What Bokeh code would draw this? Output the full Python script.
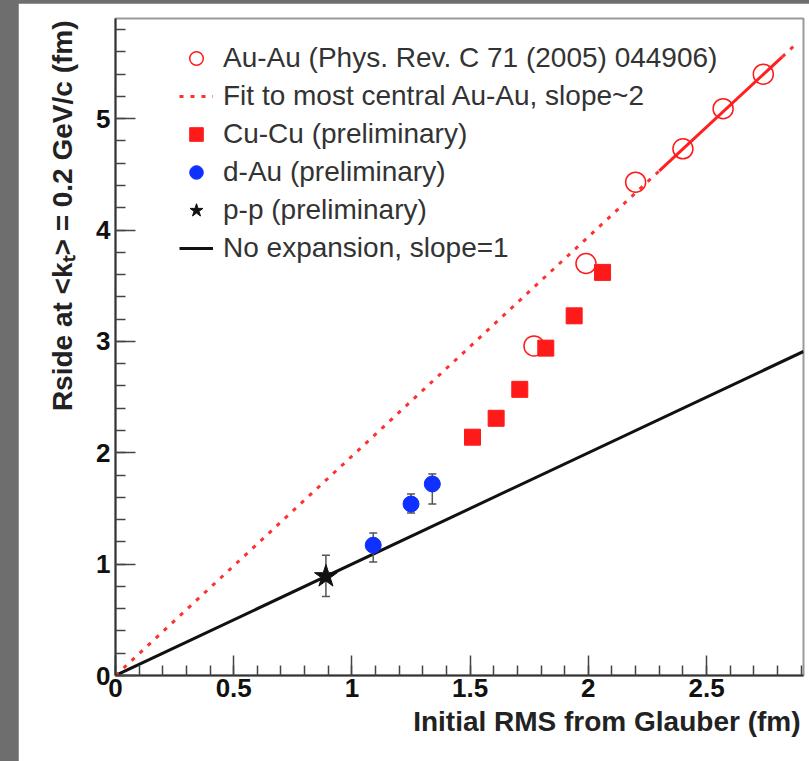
import math
from bokeh.plotting import figure
from bokeh.models import (Range1d, SingleIntervalTicker, CustomJSTickFormatter, Legend,
                          LegendItem, Title, GlobalInlineStyleSheet)
from bokeh.embed import file_html
from bokeh.resources import INLINE

# ---------------- data ----------------
auau_x = [1.77, 1.99, 2.20, 2.40, 2.57, 2.74]
auau_y = [2.96, 3.70, 4.43, 4.73, 5.09, 5.40]

cucu_x = [1.51, 1.61, 1.71, 1.82, 1.94, 2.06]
cucu_y = [2.14, 2.31, 2.57, 2.94, 3.23, 3.62]

dau_x = [1.09, 1.25, 1.34]
dau_y = [1.17, 1.54, 1.72]
dau_lo = [1.02, 1.46, 1.54]
dau_hi = [1.28, 1.63, 1.81]

pp_x = [0.89]
pp_y = [0.89]
pp_lo = [0.71]
pp_hi = [1.08]

fit_slope = 1.97
fit_dash_x = [0.0, 2.30]
fit_solid_x = [2.30, 2.82]
fit_tail_x = [2.82, 2.88]

noexp_slope = 1.0
noexp_x = [0.0, 2.91]

x_range = (0.0, 2.91)
y_range = (0.0, 5.9)

x_title = "Initial RMS from Glauber (fm)"
y_title = "Rside at <k\u209c> = 0.2 GeV/c (fm)"

legend_labels = [
    "Au-Au (Phys. Rev. C 71 (2005) 044906)",
    "Fit to most central Au-Au, slope~2",
    "Cu-Cu (preliminary)",
    "d-Au (preliminary)",
    "p-p (preliminary)",
    "No expansion, slope=1",
]

FONT = "Liberation Sans"
RED = "#ff1a1a"
BLUE = "#1030ff"

p = figure(width=791, height=758,
           x_range=Range1d(*x_range), y_range=Range1d(*y_range),
           output_backend="svg", toolbar_location=None,
           min_border_left=97, min_border_right=6,
           min_border_top=15, min_border_bottom=86)
p.margin = (3, 0, 0, 18)
p.stylesheets = [GlobalInlineStyleSheet(css="html, body { background-color: #6e6e6e; margin: 0; }")]
p.background_fill_color = "white"
p.border_fill_color = "white"
p.xgrid.visible = False
p.ygrid.visible = False
p.outline_line_color = "#9a9a9a"
p.outline_line_width = 2

fmt = CustomJSTickFormatter(code="return String(Math.round(tick*10)/10);")
p.xaxis.ticker = SingleIntervalTicker(interval=0.5, num_minor_ticks=5)
p.yaxis.ticker = SingleIntervalTicker(interval=1, num_minor_ticks=5)
for ax in (p.xaxis, p.yaxis):
    ax.formatter = fmt
    ax.major_tick_in = 20
    ax.major_tick_out = 0
    ax.minor_tick_in = 10
    ax.minor_tick_out = 0
    ax.major_tick_line_color = "#444444"
    ax.minor_tick_line_color = "#444444"
    ax.major_tick_line_width = 1.5
    ax.minor_tick_line_width = 1.5
    ax.axis_line_color = "#333333"
    ax.axis_line_width = 2
    ax.major_label_text_font = FONT
    ax.major_label_text_font_style = "bold"
    ax.major_label_text_font_size = "26px"
    ax.major_label_text_color = "#111111"
p.xaxis.major_label_standoff = 3
p.yaxis.major_label_standoff = 5

# lines
r_noexp = p.line(noexp_x, [noexp_slope * x for x in noexp_x],
                 line_color="#111111", line_width=3)
r_fit_dash = p.line(fit_dash_x, [fit_slope * x for x in fit_dash_x],
                    line_color="#ff3030", line_width=3, line_dash="4 7")
p.line(fit_solid_x, [fit_slope * x for x in fit_solid_x],
       line_color="#ff2020", line_width=3)
p.line(fit_tail_x, [fit_slope * x for x in fit_tail_x],
       line_color="#ff3030", line_width=3, line_dash="4 7")

# error bars
err_x = dau_x + pp_x
err_lo = dau_lo + pp_lo
err_hi = dau_hi + pp_hi
p.segment(x0=err_x, y0=err_lo, x1=err_x, y1=err_hi, line_color="#555555", line_width=1.5)
p.scatter(err_x, err_lo, marker="dash", size=8, line_color="#555555", line_width=1.5)
p.scatter(err_x, err_hi, marker="dash", size=8, line_color="#555555", line_width=1.5)

# markers
r_auau = p.scatter(auau_x, auau_y, marker="circle", size=20, fill_color=None,
                   line_color=RED, line_width=1.5)
r_cucu = p.scatter(cucu_x, cucu_y, marker="square", size=16, fill_color=RED,
                   line_color=RED)
r_dau = p.scatter(dau_x, dau_y, marker="circle", size=16, fill_color=BLUE,
                  line_color=BLUE)
r_pp = p.scatter(pp_x, pp_y, marker="star", size=24, fill_color="#111111",
                 line_color="#111111")

legend = Legend(items=[
    LegendItem(label=legend_labels[0], renderers=[r_auau]),
    LegendItem(label=legend_labels[1], renderers=[r_fit_dash]),
    LegendItem(label=legend_labels[2], renderers=[r_cucu]),
    LegendItem(label=legend_labels[3], renderers=[r_dau]),
    LegendItem(label=legend_labels[4], renderers=[r_pp]),
    LegendItem(label=legend_labels[5], renderers=[r_noexp]),
], location=(64, 408))
legend.label_text_font = FONT
legend.label_text_font_size = "28px"
legend.label_text_color = "#333333"
legend.glyph_width = 34
legend.glyph_height = 38
legend.label_height = 38
legend.label_standoff = 10
legend.spacing = 0
legend.padding = 0
legend.margin = 0
legend.border_line_alpha = 0
legend.background_fill_alpha = 0
p.add_layout(legend)

# axis titles
xt = Title(text=x_title, align="right", text_font=FONT, text_font_style="bold",
           text_font_size="28px", text_color="#222222", offset=3, standoff=8)
p.add_layout(xt, "below")
yt = Title(text=y_title, align="right", text_font=FONT, text_font_style="bold",
           text_font_size="28px", text_color="#222222", offset=2, standoff=32)
p.add_layout(yt, "left")

open("out.html", "w").write(file_html(p, INLINE))
